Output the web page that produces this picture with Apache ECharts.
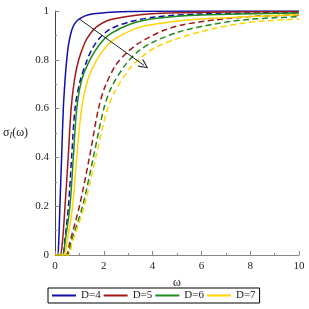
<!DOCTYPE html>
<html><head><meta charset="utf-8">
<script src="https://cdn.jsdelivr.net/npm/echarts@6/dist/echarts.min.js"></script>
<style>html,body{margin:0;padding:0;background:#fff}#c{width:309px;height:309px}</style>
</head><body><div id="c"></div>
<script>
var names = ['D=4', 'D=5', 'D=6', 'D=7'];
var colors = ['#1010a8', '#a01818', '#1e8a1e', '#ffd400'];
var xTicks = [0, 2, 4, 6, 8, 10];
var yTicks = [0, 0.2, 0.4, 0.6, 0.8, 1];
// solid curves
var solidD4 = [[0,0],[0.1,0],[0.15,0.05],[0.2,0.2],[0.27,0.4],[0.34,0.6],[0.42,0.73],[0.48,0.8],[0.55,0.86],[0.68,0.92],[0.82,0.95],[1.0,0.968],[1.37,0.985],[2.46,0.996],[4,0.999],[10,1.0]];
var solidD5 = [[0,0],[0.2,0],[0.3,0.05],[0.41,0.2],[0.54,0.4],[0.66,0.6],[0.8,0.72],[0.97,0.8],[1.23,0.872],[1.45,0.908],[1.7,0.935],[2.25,0.964],[3.48,0.985],[4.7,0.992],[7,0.996],[10,0.997]];
var solidD6 = [[0,0],[0.3,0],[0.42,0.06],[0.61,0.2],[0.75,0.4],[0.89,0.6],[1.1,0.72],[1.43,0.8],[1.84,0.865],[2.25,0.905],[3.07,0.946],[4.17,0.97],[6,0.984],[10,0.992]];
var solidD7 = [[0,0],[0.35,0],[0.5,0.06],[0.72,0.2],[0.89,0.4],[1.09,0.6],[1.35,0.72],[1.71,0.8],[2.25,0.87],[2.8,0.905],[3.48,0.934],[4.71,0.955],[6.5,0.97],[10,0.985]];
// dashed curves
var dashedD4 = [[0,0],[0.3,0],[0.4,0.06],[0.55,0.2],[0.68,0.4],[0.82,0.6],[1.02,0.71],[1.32,0.8],[1.55,0.85],[1.84,0.89],[2.25,0.925],[3.07,0.956],[4.17,0.976],[6,0.988],[10,0.994]];
var dashedD5 = [[0,0],[0.45,0],[0.6,0.05],[1.0,0.2],[1.41,0.4],[1.78,0.6],[2.05,0.69],[2.5,0.78],[2.95,0.83],[3.4,0.866],[3.9,0.895],[4.5,0.922],[5.2,0.943],[6.6,0.964],[8,0.977],[10,0.984]];
var dashedD6 = [[0,0],[0.5,0],[0.65,0.05],[1.13,0.2],[1.57,0.4],[2.0,0.6],[2.3,0.685],[2.85,0.775],[3.35,0.83],[4.0,0.872],[5.1,0.915],[6.6,0.948],[8,0.966],[10,0.977]];
var dashedD7 = [[0,0],[0.55,0],[0.7,0.05],[1.2,0.2],[1.67,0.4],[2.15,0.6],[2.5,0.68],[3.07,0.765],[3.6,0.815],[4.1,0.85],[5.1,0.89],[6.6,0.93],[8,0.954],[10,0.967]];
var arrowFrom = [1.0, 0.967];
var arrowTo = [3.65, 0.777];

var solids = [solidD4, solidD5, solidD6, solidD7];
var dashes = [dashedD4, dashedD5, dashedD6, dashedD7];
var series = [];
for (var i = 0; i < 4; i++) {
  series.push({
    name: names[i] + ' ', type: 'line', data: dashes[i], symbol: 'none', showSymbol: false,
    smooth: 0.3, z: 2,
    lineStyle: { color: colors[i], width: 1.5, type: [6, 3.5] }, itemStyle: { color: colors[i] }
  });
}
for (var j = 0; j < 4; j++) {
  series.push({
    name: names[j], type: 'line', data: solids[j], symbol: 'none', showSymbol: false,
    smooth: 0.3, z: 3,
    lineStyle: { color: colors[j], width: 1.5 }, itemStyle: { color: colors[j] }
  });
}
series.push({
  type: 'line', data: [], silent: true,
  markLine: {
    silent: true, symbol: ['none', 'path://M5,0 L10,9 L9,10 L5,2.2 L1,10 L0,9 Z'], symbolSize: [9, 10],
    label: { show: false },
    lineStyle: { color: '#222', width: 1, type: 'solid' },
    data: [[{ coord: arrowFrom }, { coord: arrowTo }]]
  }
});
var serif = 'Liberation Serif, DejaVu Serif, serif';
var chart = echarts.init(document.getElementById('c'), null, { renderer: 'canvas' });
chart.setOption({
  animation: false,
  backgroundColor: '#fff',
  grid: { left: 55, right: 10, top: 11, bottom: 54, containLabel: false },
  xAxis: {
    type: 'value', min: 0, max: 10, interval: 2,
    name: 'ω', nameLocation: 'middle', nameGap: 21,
    nameTextStyle: { fontFamily: serif, fontSize: 12, color: '#222' },
    axisLine: { show: true, onZero: false, lineStyle: { color: '#888', width: 1 } },
    axisTick: { show: true, inside: true, length: 4, lineStyle: { color: '#888' } },
    minorTick: { show: true, splitNumber: 2, length: 2, lineStyle: { color: '#888' } },
    axisLabel: { fontFamily: serif, fontSize: 11, color: '#222', margin: 6 },
    splitLine: { show: false }
  },
  yAxis: {
    type: 'value', min: 0, max: 1, interval: 0.2,
    name: '{a|σ}{b|I}{a|(ω)}', nameLocation: 'middle', nameGap: 27, nameRotate: 0,
    nameTextStyle: {
      rich: {
        a: { fontFamily: serif, fontSize: 12, color: '#222' },
        b: { fontFamily: serif, fontSize: 8, fontStyle: 'italic', color: '#222', padding: [6, 0, 0, 0] }
      }
    },
    axisLine: { show: true, onZero: false, lineStyle: { color: '#444', width: 1 } },
    axisTick: { show: true, inside: true, length: 4, lineStyle: { color: '#888' } },
    minorTick: { show: true, splitNumber: 2, length: 2, lineStyle: { color: '#888' } },
    axisLabel: {
      fontFamily: serif, fontSize: 11, color: '#222', margin: 6,
      formatter: function (v) { return (v === 0 || v === 1) ? String(v) : v.toFixed(1); }
    },
    splitLine: { show: false }
  },
  legend: {
    data: names, left: 48, top: 288, orient: 'horizontal',
    icon: 'rect', itemWidth: 24, itemHeight: 2, itemGap: 3,
    padding: [2, 4, 2, 4], borderColor: '#000', borderWidth: 1,
    textStyle: { fontFamily: serif, fontSize: 11, color: '#222' }
  },
  series: series
});
</script></body></html>
